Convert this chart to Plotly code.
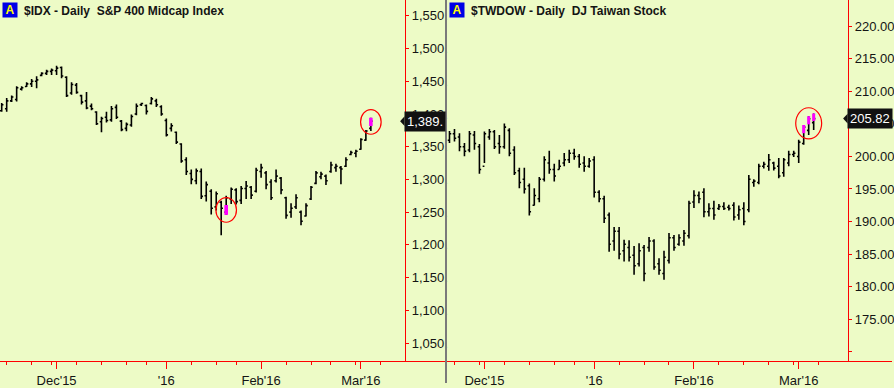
import plotly.graph_objects as go

# ---------------- data: $IDX (S&P 400 Midcap) ----------------
idx_high = [1416.8,1424.4,1428.3,1442.5,1442.5,1448.5,1453.5,1457.5,1463.6,1467.5,
            1469.6,1473.5,1472.6,1457.5,1448.5,1447.4,1429.3,1433.4,1415.8,1404.2,
            1395.7,1403.2,1412.3,1414.3,1390.6,1387.1,1399.2,1415.8,1417.3,1414.3,
            1425.9,1423.3,1413.2,1393.1,1385.6,1373.0,1355.4,1333.9,1315.2,1316.7,
            1316.7,1296.6,1285.0,1281.5,1267.5,1275.0,1287.6,1286.5,1290.1,1297.7,
            1290.1,1317.7,1323.8,1312.7,1300.1,1315.2,1303.7,1273.5,1263.4,1277.4,
            1252.4,1263.4,1290.1,1312.7,1311.7,1307.6,1326.8,1323.8,1320.3,1333.9,
            1343.8,1345.3,1363.0,1375.5,1394.2]
idx_low = [1403.2,1403.2,1418.3,1419.2,1435.8,1441.0,1441.0,1439.4,1457.5,1459.5,
           1459.5,1459.5,1454.5,1425.9,1429.3,1430.8,1414.3,1407.2,1405.7,1383.0,
           1372.0,1387.1,1388.2,1392.1,1373.5,1373.5,1380.6,1398.1,1412.3,1399.2,
           1414.3,1410.8,1397.2,1365.5,1373.0,1353.9,1325.3,1306.7,1292.5,1292.5,
           1269.9,1266.4,1246.4,1252.4,1214.7,1245.8,1262.4,1261.5,1262.4,1269.9,
           1269.9,1280.0,1302.6,1285.0,1268.4,1295.1,1277.4,1239.7,1241.3,1254.8,
           1229.8,1243.4,1268.4,1292.5,1300.1,1291.6,1310.2,1311.7,1292.5,1318.8,
           1336.9,1333.9,1345.3,1358.9,1374.0]
idx_open = [1405,1408,1420,1422,1438,1442,1446,1450,1459,1462,
            1465,1466,1471,1456,1432,1444,1428,1420,1412,1403,
            1388,1395,1391,1410,1389,1378,1383,1400,1414,1413,
            1416,1420,1411,1390,1378,1372,1354,1330,1309,1298,
            1312,1275,1282,1258,1265,1250,1270,1284,1268,1286,
            1288,1282,1312,1310,1296,1298,1302,1272,1250,1258,
            1250,1244,1270,1294,1304,1305,1312,1318,1318,1320,
            1338,1340,1346,1360,1378]
idx_close = [1414,1420,1426,1440,1440,1446,1450,1452,1462,1465,
             1467,1470,1458,1428,1445,1433,1418,1409,1408,1385,
             1393,1390,1408,1395,1376,1384,1396,1412,1416,1404,
             1423,1414,1400,1368,1382,1357,1328,1312,1300,1313,
             1274,1292,1256,1278,1256,1272,1285,1266,1286,1290,
             1276,1314,1318,1292,1272,1305,1284,1245,1256,1272,
             1236,1260,1288,1310,1308,1298,1322,1320,1316,1330,
             1341,1343,1361,1374,1389]
# highlighted (magenta) segments: bar index, low, high
idx_hl_bar = [45, 74]
idx_hl_lo = [1245.8, 1381.5]
idx_hl_hi = [1260.9, 1394.2]
idx_last = "1,389."
idx_major_vals = [11, 33, 52, 72]
idx_major_text = ["Dec'15", "'16", "Feb'16", "Mar'16"]
idx_minor_vals = [1, 6, 10, 15, 20, 25, 29, 33, 38, 43, 47, 52, 57, 62, 66, 71, 76]
idx_ytick_vals = [1050, 1100, 1150, 1200, 1250, 1300, 1350, 1400, 1450, 1500, 1550]
idx_ytick_text = ["1,050.", "1,100.", "1,150.", "1,200.", "1,250.", "1,300.",
                  "1,350.", "1,400.", "1,450.", "1,500.", "1,550."]

# ---------------- data: $TWDOW (DJ Taiwan Stock) ----------------
tw_high = [203.92,204.22,203.57,202.05,203.92,203.92,201.90,203.82,204.22,204.07,
           203.31,205.08,204.32,201.55,198.25,198.25,195.83,195.11,196.84,200.03,
           200.88,198.86,199.51,200.53,201.03,201.18,200.38,200.03,199.77,200.03,
           194.81,193.96,191.37,189.15,189.15,187.18,187.13,186.22,186.67,186.37,
           187.63,187.28,184.34,185.51,188.24,187.94,188.04,188.69,193.20,194.81,
           194.61,195.11,192.79,193.20,192.69,192.94,192.59,192.94,192.44,192.94,
           197.15,196.48,198.86,199.17,200.38,199.17,199.77,199.77,200.88,200.88,
           202.55,204.83,206.19,206.60]
tw_low = [202.05,202.31,200.79,200.03,200.64,201.03,197.34,199.01,202.55,201.14,
          200.42,201.18,200.03,197.15,195.11,194.31,190.93,192.44,192.94,196.13,
          197.34,196.13,197.99,198.51,199.01,199.51,198.25,197.65,198.25,193.70,
          192.94,189.76,185.36,185.51,184.19,183.84,183.84,181.82,183.08,180.80,
          185.36,182.58,181.82,181.06,183.53,185.51,186.27,186.27,187.38,192.08,
          192.79,190.67,190.77,190.26,191.78,191.78,191.68,190.17,190.26,189.41,
          191.43,195.33,195.72,198.15,197.80,197.84,196.66,196.89,198.51,199.92,
          199.01,201.79,203.31,204.07]
tw_open = [202.5,203.5,203.0,201.5,201.0,203.3,201.5,198.5,203.0,203.8,
           202.0,201.5,204.0,201.0,197.8,196.5,195.5,192.5,193.5,196.5,
           199.0,198.0,198.0,199.0,199.5,200.5,200.0,199.0,198.5,199.5,
           194.5,193.5,191.0,187.0,188.5,185.5,186.0,184.8,183.5,186.0,
           186.0,187.0,183.5,182.0,184.0,187.5,186.5,187.0,187.8,193.0,
           194.0,194.5,191.5,192.0,192.0,192.3,192.2,192.5,191.0,192.0,
           191.8,196.0,196.0,198.5,198.5,199.0,198.5,197.5,199.0,200.3,
           200.0,202.0,204.0,205.2]
tw_close = [203.5,202.8,201.5,200.8,203.5,202.0,198.0,203.5,203.8,201.5,
            201.5,204.5,200.5,197.5,196.0,195.0,191.5,194.0,196.5,199.5,
            198.0,197.0,198.5,199.5,200.5,200.0,198.8,198.5,199.3,194.5,
            193.5,190.5,186.5,188.5,185.0,186.5,184.5,183.2,185.5,182.0,
            187.0,183.0,182.5,184.5,187.5,186.0,187.5,188.2,192.8,194.0,
            193.5,191.5,192.0,191.0,192.3,192.0,192.0,190.7,191.8,190.0,
            196.5,196.2,198.5,198.8,199.5,198.2,197.0,199.5,200.3,200.5,
            202.2,204.5,205.8,205.82]
tw_hl_bar = [71, 72, 73]
tw_hl_lo = [203.57, 204.93, 205.44]
tw_hl_hi = [204.83, 206.19, 206.60]
tw_last = "205.82"
tw_major_vals = [7, 29, 49, 70]
tw_major_text = ["Dec'15", "'16", "Feb'16", "Mar'16"]
tw_minor_vals = [1, 6, 11, 16, 21, 25, 29, 34, 39, 44, 49, 54, 59, 64, 69, 74]
tw_ytick_vals = [170, 175, 180, 185, 190, 195, 200, 205, 210, 215, 220]
tw_ytick_text = ["", "175.00", "180.00", "185.00", "190.00", "195.00",
                 "200.00", "205.00", "210.00", "215.00", "220.00"]

# ---------------- style ----------------
W, H = 894, 388
BG = "#EDFBC6"
RED = "#FF0000"
FONT = "Liberation Sans, Arial, sans-serif"
TXT = "#141414"
y_dom = [22 / H, 1.0]
IDX_RANGE = [1022.1, 1574.1]
TW_RANGE = [168.51, 224.05]
PLOT_H = H - 22

fig = go.Figure()

def add_panel(xa, ya, hi, lo, op, cl, hl_bar, hl_lo, hl_hi, hl_w):
    xs = list(range(len(hi)))
    fig.add_trace(go.Ohlc(
        x=xs, open=op, high=hi, low=lo, close=cl,
        xaxis=xa, yaxis=ya, tickwidth=0.35,
        increasing=dict(line=dict(color="black", width=1.6)),
        decreasing=dict(line=dict(color="black", width=1.6)),
        hoverinfo="skip", showlegend=False))
    sx, sy = [], []
    for b, l, h in zip(hl_bar, hl_lo, hl_hi):
        sx += [b, b, None]
        sy += [l, h, None]
    fig.add_trace(go.Scatter(
        x=sx, y=sy, mode="lines", line=dict(color="#FF00FF", width=hl_w),
        xaxis=xa, yaxis=ya, showlegend=False, hoverinfo="skip"))

add_panel("x", "y", idx_high, idx_low, idx_open, idx_close,
          idx_hl_bar, idx_hl_lo, idx_hl_hi, 3.6)
add_panel("x2", "y2", tw_high, tw_low, tw_open, tw_close,
          tw_hl_bar, tw_hl_lo, tw_hl_hi, 3)

axis_font = dict(family=FONT, size=13, color=TXT)

def xaxis(domain, rng, mv, mt, minor):
    return dict(domain=domain, range=rng, showgrid=False, zeroline=False,
                showline=True, linecolor=RED, linewidth=1,
                tickmode="array", tickvals=mv, ticktext=mt,
                ticks="outside", ticklen=7, tickcolor=RED, tickwidth=1,
                tickfont=axis_font,
                minor=dict(tickmode="array", tickvals=minor, ticks="outside",
                           ticklen=3, tickcolor=RED, tickwidth=1, showgrid=False),
                rangeslider=dict(visible=False), fixedrange=True)

def yaxis(pos, rng, tv, tt):
    return dict(domain=y_dom, range=rng, anchor="free", position=pos,
                side="right", showgrid=False, zeroline=False,
                showline=True, linecolor=RED, linewidth=1,
                tickmode="array", tickvals=tv, ticktext=tt,
                ticks="outside", ticklen=3, tickcolor=RED, tickwidth=1,
                tickfont=axis_font, fixedrange=True)

fig.update_layout(
    width=W, height=H, autosize=False,
    margin=dict(l=0, r=0, t=0, b=0),
    paper_bgcolor=BG, plot_bgcolor=BG,
    showlegend=False,
    xaxis=xaxis([0, 447 / W], [-0.34, 89.06], idx_major_vals, idx_major_text, idx_minor_vals),
    yaxis=yaxis(406 / W, IDX_RANGE, idx_ytick_vals, idx_ytick_text),
    xaxis2=xaxis([448 / W, 1.0], [-0.5, 88.7], tw_major_vals, tw_major_text, tw_minor_vals),
    yaxis2=yaxis(850 / W, TW_RANGE, tw_ytick_vals, tw_ytick_text),
)
fig.layout.xaxis.anchor = "y"
fig.layout.xaxis2.anchor = "y2"

# separator between panels
fig.add_shape(type="line", xref="paper", yref="paper", x0=447 / W, x1=447 / W,
              y0=0, y1=1, line=dict(color="#7A7A7A", width=2))

# circles around highlighted bars (centered on magenta segments)
def circle(xa, ya, bars, los, his, rx_px, ry_px, px_per_x, px_per_y):
    cx = sum(bars) / len(bars)
    cy = (min(los) + max(his)) / 2
    fig.add_shape(type="circle", xref=xa, yref=ya,
                  x0=cx - rx_px / px_per_x, x1=cx + rx_px / px_per_x,
                  y0=cy - ry_px / px_per_y, y1=cy + ry_px / px_per_y,
                  line=dict(color=RED, width=1.2))

idx_ppy = PLOT_H / (IDX_RANGE[1] - IDX_RANGE[0])
tw_ppy = PLOT_H / (TW_RANGE[1] - TW_RANGE[0])
circle("x", "y", [idx_hl_bar[0]], [idx_hl_lo[0]], [idx_hl_hi[0]], 10.3, 12.5, 5, idx_ppy)
circle("x", "y", [idx_hl_bar[1]], [idx_hl_lo[1]], [idx_hl_hi[1]], 10.3, 12.5, 5, idx_ppy)
circle("x2", "y2", tw_hl_bar, tw_hl_lo, tw_hl_hi, 13, 15.8, 5, tw_ppy)

# last-price labels (box with a small left-pointing tip)
def price_label(ya, val, text, x_px, ppy):
    fig.add_annotation(xref="paper", yref=ya, x=x_px / W, y=val,
                       xanchor="left", yanchor="middle", text=text, showarrow=False,
                       bgcolor="#111111", borderpad=2,
                       font=dict(family=FONT, size=13, color="white"))
    d = 5 / ppy
    xa, xb = (x_px - 4) / W, (x_px + 0.5) / W
    fig.add_shape(type="path", xref="paper", yref=ya,
                  path=f"M {xa},{val} L {xb},{val + d} L {xb},{val - d} Z",
                  fillcolor="#111111", line=dict(width=0))

price_label("y", idx_close[-1], idx_last, 405, idx_ppy)
price_label("y2", tw_close[-1], tw_last, 849, tw_ppy)

# titles with "A" badges
for xb, title in [(2, "$IDX - Daily  S&P 400 Midcap Index"),
                  (450, "$TWDOW - Daily  DJ Taiwan Stock")]:
    fig.add_annotation(xref="paper", yref="paper", x=xb / W, y=1 - 2 / H,
                       xanchor="left", yanchor="top", text="<b>A</b>",
                       showarrow=False, bgcolor="#0000E6", borderpad=0,
                       width=14, height=14,
                       font=dict(family=FONT, size=12, color="#FFFF00"))
    fig.add_annotation(xref="paper", yref="paper", x=(xb + 20) / W, y=1 - 2 / H,
                       xanchor="left", yanchor="top", text="<b>" + title + "</b>",
                       showarrow=False,
                       font=dict(family=FONT, size=12, color=TXT))

fig.write_html("out.html", config={"displayModeBar": False, "staticPlot": True},
               post_script="document.body.style.margin='0';document.body.style.overflow='hidden';")
